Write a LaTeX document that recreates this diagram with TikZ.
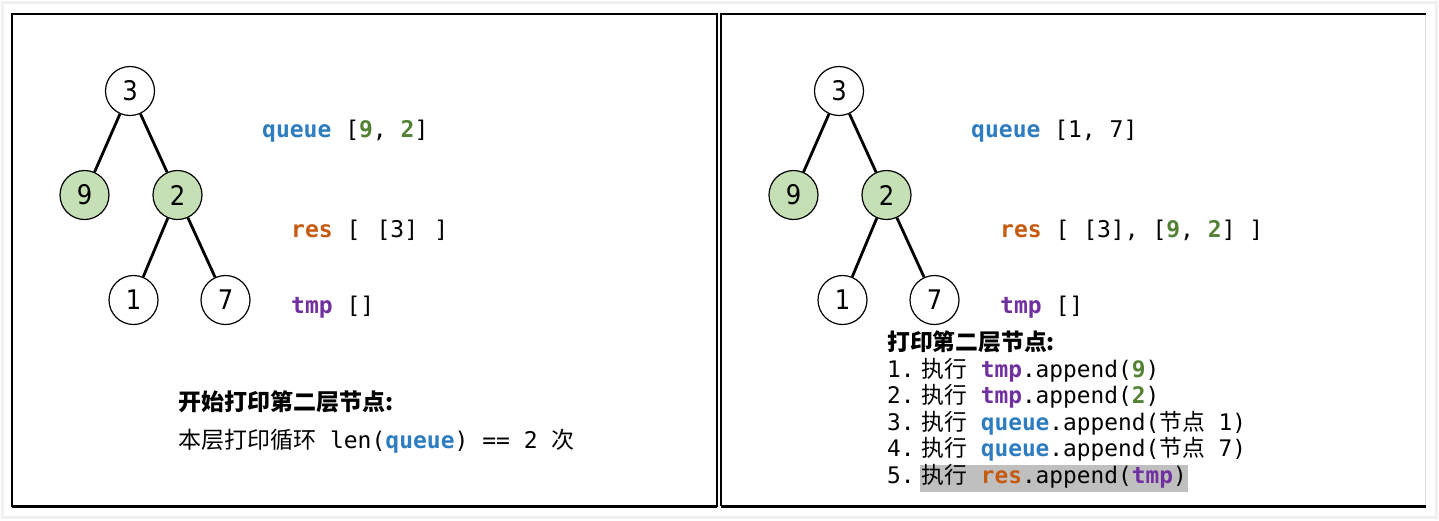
\documentclass[tikz,border=0pt]{standalone}
\usepackage{fontspec}
\setmainfont{DejaVu Sans}
\setmonofont{DejaVu Sans Mono}
\newfontfamily\zhfont{Noto Sans CJK SC}
\newfontfamily\digitfont{DejaVu Sans Condensed}
\definecolor{qblue}{HTML}{2E7DC0}
\definecolor{rorange}{HTML}{C55A11}
\definecolor{tpurple}{HTML}{7030A0}
\definecolor{ngreen}{HTML}{548235}
\definecolor{nodefill}{HTML}{C5E0B4}
\definecolor{hlgray}{HTML}{BFBFBF}
\newcommand\zh[1]{{\zhfont #1}}
\newcommand\kq{\textbf{\color{qblue}queue}}
\newcommand\kr{\textbf{\color{rorange}res}}
\newcommand\kt{\textbf{\color{tpurple}tmp}}
\newcommand\gn[1]{\textbf{\color{ngreen}#1}}
\newcommand\numsp{\hspace{0.3em}}
\tikzset{
  treenode/.style={circle, draw=black, line width=1.2pt, minimum size=49pt, inner sep=0pt,
    fill=white, font=\digitfont\fontsize{27}{30}\selectfont},
  greennode/.style={treenode, fill=nodefill},
  edge/.style={line width=2.8pt, black},
  codetop/.style={anchor=base west, inner sep=0pt, font=\ttfamily\fontsize{23}{27}\selectfont},
  codebot/.style={anchor=base west, inner sep=0pt, font=\ttfamily\fontsize{22.8}{27}\selectfont},
  frame/.style={line width=1.5pt, black},
  framebottom/.style={line width=3pt, black}
}
\begin{document}
\begin{tikzpicture}[x=1pt,y=-1pt]
\useasboundingbox (0,0) rectangle (1439,520);
% outer shadow frame
\draw[gray!12, line width=3pt] (2.5,2.5) rectangle (1436,517);
% left frame
\draw[frame] (12,14) rectangle (717,506);
\draw[framebottom] (12,506) -- (717,506);
% right frame
\draw[gray!25, line width=1pt] (1425,14) -- (1425,506);
\draw[frame] (1426,14) -- (721,14) -- (721,506);
\draw[framebottom] (721,506) -- (1426,506);

% ---------- left tree ----------
\node[treenode] (L3) at (130,91) {3};
\node[greennode] (L9) at (84.5,195) {9};
\node[greennode] (L2) at (177.5,195) {2};
\node[treenode] (L1) at (133.5,300) {1};
\node[treenode] (L7) at (225.5,300) {7};
\draw[edge] (L3) -- (L9);
\draw[edge] (L3) -- (L2);
\draw[edge] (L2) -- (L1);
\draw[edge] (L2) -- (L7);

\node[codetop] (Lq) at (262,137) {\kq{} [\gn{9}, \gn{2}]};
\node[codetop] (Lr) at (291,237) {\kr{} [\hspace{0.1em} [3]\hspace{0.1em} ]};
\node[codetop] (Lt) at (291,313) {\kt{} []};

\node[codetop] (Lh) at (178,410) {\zh{\bfseries 开始打印第二层节点:}};
\node[codetop] (Ll) at (178,448) {\zh{本层打印循环} len(\kq) == 2 \zh{次}};

% ---------- right tree ----------
\node[treenode] (R3) at (839,91) {3};
\node[greennode] (R9) at (793.5,195) {9};
\node[greennode] (R2) at (886.5,195) {2};
\node[treenode] (R1) at (842.5,300) {1};
\node[treenode] (R7) at (934.5,300) {7};
\draw[edge] (R3) -- (R9);
\draw[edge] (R3) -- (R2);
\draw[edge] (R2) -- (R1);
\draw[edge] (R2) -- (R7);

\node[codetop] (Rq) at (971,137) {\kq{} [1, 7]};
\node[codetop] (Rr) at (1000,237) {\kr{} [ [3], [\gn{9}, \gn{2}] ]};
\node[codetop] (Rt) at (1000,313) {\kt{} []};

\fill[hlgray] (920,465) rectangle (1188,492);
\node[codebot] (Rh) at (887,350) {\zh{\bfseries 打印第二层节点:}};
\node[codebot] (R1l) at (887,377) {1.\numsp\zh{执行} \kt.append(\gn{9})};
\node[codebot] (R2l) at (887,403.5) {2.\numsp\zh{执行} \kt.append(\gn{2})};
\node[codebot] (R3l) at (887,430) {3.\numsp\zh{执行} \kq.append(\zh{节点} 1)};
\node[codebot] (R4l) at (887,456.5) {4.\numsp\zh{执行} \kq.append(\zh{节点} 7)};
\node[codebot] (R5l) at (887,483) {5.\numsp\zh{执行} \kr.append(\kt)};
\end{tikzpicture}
\end{document}
